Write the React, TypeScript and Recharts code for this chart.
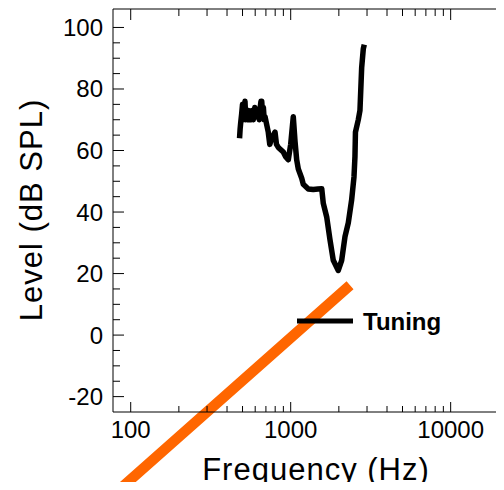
import React from 'react';
import { LineChart, Line, XAxis, YAxis, Legend } from 'recharts';

// Tuning curve (frequency in Hz, level in dB SPL)
const tuningFreq = [479, 483, 487, 494, 500, 505, 512, 518, 524, 530, 537, 545, 551, 557, 565, 575, 584, 597, 610, 625, 636, 645, 652, 659, 667, 675, 683, 691, 724, 740, 761, 798, 815, 837, 899, 930, 966, 1000, 1038, 1064, 1090, 1116, 1172, 1199, 1288, 1384, 1480, 1563, 1599, 1679, 1760, 1846, 1984, 2083, 2185, 2291, 2405, 2487, 2522, 2540, 2646, 2710, 2778, 2843, 2884];
const tuningLevel = [64, 67, 69, 72, 75, 70, 74, 76, 70, 73, 70, 73, 70, 72, 70, 73, 70, 74, 71, 73, 70, 74, 76, 76, 72, 74, 70, 71, 66, 62, 64, 66, 62, 61, 59.5, 58, 57, 62, 71, 63, 57, 54, 51, 49, 47.5, 47.3, 47.5, 47.6, 42.8, 38.4, 31, 24.3, 21, 24.3, 32, 36.5, 44, 51.4, 58, 66, 70, 73, 87, 93, 94.4];

// Orange line
const orangeFreq = [70, 83.3, 2349];
const orangeLevel = [-54.1, -50.6, 16.2];

const xTicks = [100, 200, 300, 400, 500, 600, 700, 800, 900, 1000, 2000, 3000, 4000, 5000, 6000, 7000, 8000, 9000, 10000, 20000];
const xLabeled = [100, 1000, 10000];
const yTicks = [-20, -15, -10, -5, 0, 5, 10, 15, 20, 25, 30, 35, 40, 45, 50, 55, 60, 65, 70, 75, 80, 85, 90, 95, 100];
const yLabeled = [-20, 0, 20, 40, 60, 80, 100];

const tuningData = tuningFreq.map((f, i) => ({ f, v: tuningLevel[i] }));
const orangeData = orangeFreq.map((f, i) => ({ f, v: orangeLevel[i] }));

const FONT = '"Liberation Sans", Arial, Helvetica, sans-serif';

const BottomTick = (props: any) => {
  const { x, y, payload } = props;
  const major = xLabeled.includes(payload.value);
  return (
    <g>
      <line x1={x} y1={y} x2={x} y2={y - (major ? 10 : 6)} stroke="#000" strokeWidth={1} />
      {major && (
        <text x={x} y={y + 25.5} textAnchor="middle" fontSize={24} fontFamily={FONT} fill="#000">
          {payload.value}
        </text>
      )}
    </g>
  );
};

const TopTick = (props: any) => {
  const { x, y, payload } = props;
  const major = xLabeled.includes(payload.value);
  return <line x1={x} y1={y} x2={x} y2={y + (major ? 11 : 7)} stroke="#000" strokeWidth={1} />;
};

const LeftTick = (props: any) => {
  const { x, y, payload } = props;
  const major = yLabeled.includes(payload.value);
  return (
    <g>
      <line x1={x} y1={y} x2={x + (major ? 11 : 7)} y2={y} stroke="#000" strokeWidth={1} />
      {major && (
        <text x={x - 10} y={y + 8.5} textAnchor="end" fontSize={24} fontFamily={FONT} fill="#000">
          {payload.value}
        </text>
      )}
    </g>
  );
};

const XTitle = (props: any) => {
  const vb = props.viewBox || { x: 113, y: 412 };
  return (
    <text x={vb.x + 203} y={vb.y + 68} textAnchor="middle" fontSize={31} letterSpacing={1} fontFamily={FONT} fill="#000">
      Frequency (Hz)
    </text>
  );
};

const YTitle = () => (
  <text x={41.5} y={210} transform="rotate(-90, 41.5, 210)" textAnchor="middle" fontSize={31} letterSpacing={1} fontFamily={FONT} fill="#000">
    Level (dB SPL)
  </text>
);

const renderLegend = (props: any) => {
  const items = (props.payload || []).filter((p: any) => p.type !== 'none');
  return (
    <svg width={170} height={30} style={{ display: 'block', overflow: 'visible' }}>
      {items.map((entry: any, i: number) => (
        <g key={i}>
          <line x1={0} y1={12} x2={56} y2={12} stroke="#000" strokeWidth={5} />
          <text x={66} y={21} fontSize={24} fontWeight="bold" fontFamily={FONT} fill="#000">
            {entry.value}
          </text>
        </g>
      ))}
    </svg>
  );
};

export default function App() {
  return (
    <div style={{ margin: -8, width: 504, height: 490, overflow: 'hidden', background: '#fff' }}>
      <style>{`.orange-line, .orange-line * { clip-path: none !important; }`}</style>
      <LineChart width={560} height={490} margin={{ top: 8, right: 33, bottom: 0, left: 0 }}>
        <XAxis
          dataKey="f"
          type="number"
          scale="log"
          domain={[77.5, 30000]}
          allowDataOverflow
          ticks={xTicks}
          interval={0}
          height={78}
          tickSize={0}
          tickMargin={0}
          tick={<BottomTick />}
          axisLine={{ stroke: '#000', strokeWidth: 1 }}
          tickLine={false}
          label={<XTitle />}
        />
        <XAxis
          xAxisId="top"
          orientation="top"
          dataKey="f"
          type="number"
          scale="log"
          domain={[77.5, 30000]}
          allowDataOverflow
          ticks={xTicks}
          interval={0}
          height={1}
          tickSize={0}
          tickMargin={0}
          tick={<TopTick />}
          axisLine={{ stroke: '#000', strokeWidth: 1 }}
          tickLine={false}
        />
        <YAxis
          type="number"
          domain={[-25, 106]}
          allowDataOverflow
          ticks={yTicks}
          interval={0}
          width={113}
          tickSize={0}
          tickMargin={0}
          tick={<LeftTick />}
          axisLine={{ stroke: '#000', strokeWidth: 1 }}
          tickLine={false}
          label={<YTitle />}
        />
        <Line
          xAxisId="top"
          data={tuningData}
          dataKey="v"
          name="hidden"
          legendType="none"
          stroke="none"
          dot={false}
          activeDot={false}
          isAnimationActive={false}
        />
        <Line
          data={tuningData}
          dataKey="v"
          name="Tuning"
          stroke="#000"
          strokeWidth={5.5}
          strokeLinejoin="round"
          dot={false}
          activeDot={false}
          isAnimationActive={false}
          type="linear"
        />
        <Line
          className="orange-line"
          data={orangeData}
          dataKey="v"
          name="orange"
          legendType="none"
          stroke="#FF6600"
          strokeWidth={10.5}
          dot={false}
          activeDot={false}
          isAnimationActive={false}
          type="linear"
        />
        <Legend
          layout="horizontal"
          verticalAlign="middle"
          align="center"
          content={renderLegend}
          wrapperStyle={{ left: 297, top: 309, width: 170, height: 30 }}
        />
      </LineChart>
    </div>
  );
}
